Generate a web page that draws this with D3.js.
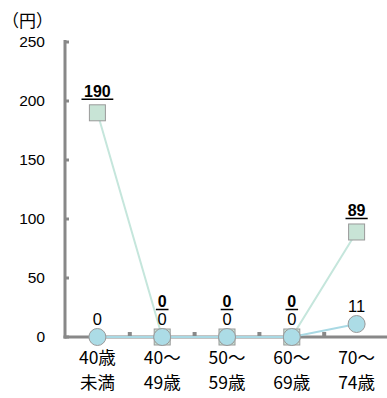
<!DOCTYPE html>
<html>
<head>
<meta charset="utf-8">
<script src="https://cdn.jsdelivr.net/npm/d3@7"></script>
<style>
  body { margin: 0; background: #fff; }
  text { font-family: "Liberation Sans", "Noto Sans CJK JP", sans-serif; fill: #000; }
</style>
</head>
<body>
<svg id="chart"></svg>
<script>
const categories = [["40歳", "未満"], ["40～", "49歳"], ["50～", "59歳"], ["60～", "69歳"], ["70～", "74歳"]];
const squareValues = [190, 0, 0, 0, 89];
const circleValues = [0, 0, 0, 0, 11];
const yTicks = [0, 50, 100, 150, 200, 250];

const width = 387, height = 398;
const margin = { top: 42, right: -2, bottom: 61, left: 65 };

const svg = d3.select("#chart").attr("width", width).attr("height", height);

const keys = categories.map(d => d.join(""));
const x = d3.scaleBand().domain(keys).range([margin.left, width - margin.right]);
const y = d3.scaleLinear().domain([0, 250]).range([height - margin.bottom, margin.top]);
const cx = i => x(keys[i]) + x.bandwidth() / 2;

// y axis
svg.append("line")
    .attr("x1", margin.left).attr("x2", margin.left)
    .attr("y1", y(250) - 2).attr("y2", y(0) + 1.5)
    .attr("stroke", "#888").attr("stroke-width", 3);
svg.selectAll(".ytick").data(yTicks).enter().append("line")
    .attr("x1", margin.left).attr("x2", margin.left + 4)
    .attr("y1", d => y(d)).attr("y2", d => y(d))
    .attr("stroke", "#888").attr("stroke-width", 3);
svg.selectAll(".ylab").data(yTicks).enter().append("text")
    .attr("x", 45).attr("y", d => y(d)).attr("dy", "0.35em")
    .attr("text-anchor", "end").style("font-size", "15.5px")
    .text(d => d);
svg.append("text").attr("x", 2).attr("y", 27)
    .style("font-size", "17px").style("font-family", "Noto Sans CJK JP")
    .text("（円）");

// x axis
svg.append("line")
    .attr("x1", margin.left - 1.5).attr("x2", width)
    .attr("y1", y(0)).attr("y2", y(0))
    .attr("stroke", "#888").attr("stroke-width", 3);
svg.selectAll(".xtick").data(keys.slice(1)).enter().append("rect")
    .attr("x", d => x(d) - 2).attr("y", y(0) - 5)
    .attr("width", 4).attr("height", 4).attr("fill", "#888");

const xl = svg.selectAll(".xlab").data(categories).enter().append("text")
    .attr("text-anchor", "middle").style("font-size", "17.5px")
    .style("font-family", "Noto Sans CJK JP");
xl.append("tspan").attr("x", (d, i) => cx(i)).attr("y", 364).text(d => d[0]);
xl.append("tspan").attr("x", (d, i) => cx(i)).attr("y", 389).text(d => d[1]);

// lines
const line = d3.line().x((d, i) => cx(i)).y(d => y(d));
svg.append("path").datum(squareValues).attr("d", line)
    .attr("fill", "none").attr("stroke", "#c5e6dc").attr("stroke-width", 2);
svg.append("path").datum(circleValues).attr("d", line)
    .attr("fill", "none").attr("stroke", "#a9d9e4").attr("stroke-width", 2);

svg.selectAll(".sq").data(squareValues).enter().append("rect")
    .attr("x", (d, i) => cx(i) - 8).attr("y", d => y(d) - 8)
    .attr("width", 16).attr("height", 16)
    .attr("fill", "#c8e4d6").attr("stroke", "#999").attr("stroke-width", 1);

svg.selectAll(".ci").data(circleValues).enter().append("circle")
    .attr("cx", (d, i) => cx(i)).attr("cy", d => y(d)).attr("r", 8.5)
    .attr("fill", "#acdce6").attr("stroke", "#999").attr("stroke-width", 1);

// labels
const circleLabelY = d => y(d) - 12;
svg.selectAll(".cl").data(circleValues).enter().append("text")
    .attr("x", (d, i) => cx(i)).attr("y", d => circleLabelY(d))
    .attr("text-anchor", "middle").style("font-size", "16.5px")
    .text(d => d);

const squareLabelY = (d, i) => Math.min(y(d) - 16, circleLabelY(circleValues[i]) - 18);
svg.selectAll(".sl").data(squareValues).enter().append("text")
    .attr("x", (d, i) => cx(i)).attr("y", squareLabelY)
    .attr("text-anchor", "middle").style("font-size", "16px").style("font-weight", "bold")
    .text(d => d);
svg.selectAll(".su").data(squareValues).enter().append("line")
    .attr("x1", (d, i) => cx(i) - String(d).length * 4.8 - 1.5)
    .attr("x2", (d, i) => cx(i) + String(d).length * 4.8 + 1.5)
    .attr("y1", (d, i) => squareLabelY(d, i) + 2.5).attr("y2", (d, i) => squareLabelY(d, i) + 2.5)
    .attr("stroke", "#000").attr("stroke-width", 1.5);
</script>
</body>
</html>
